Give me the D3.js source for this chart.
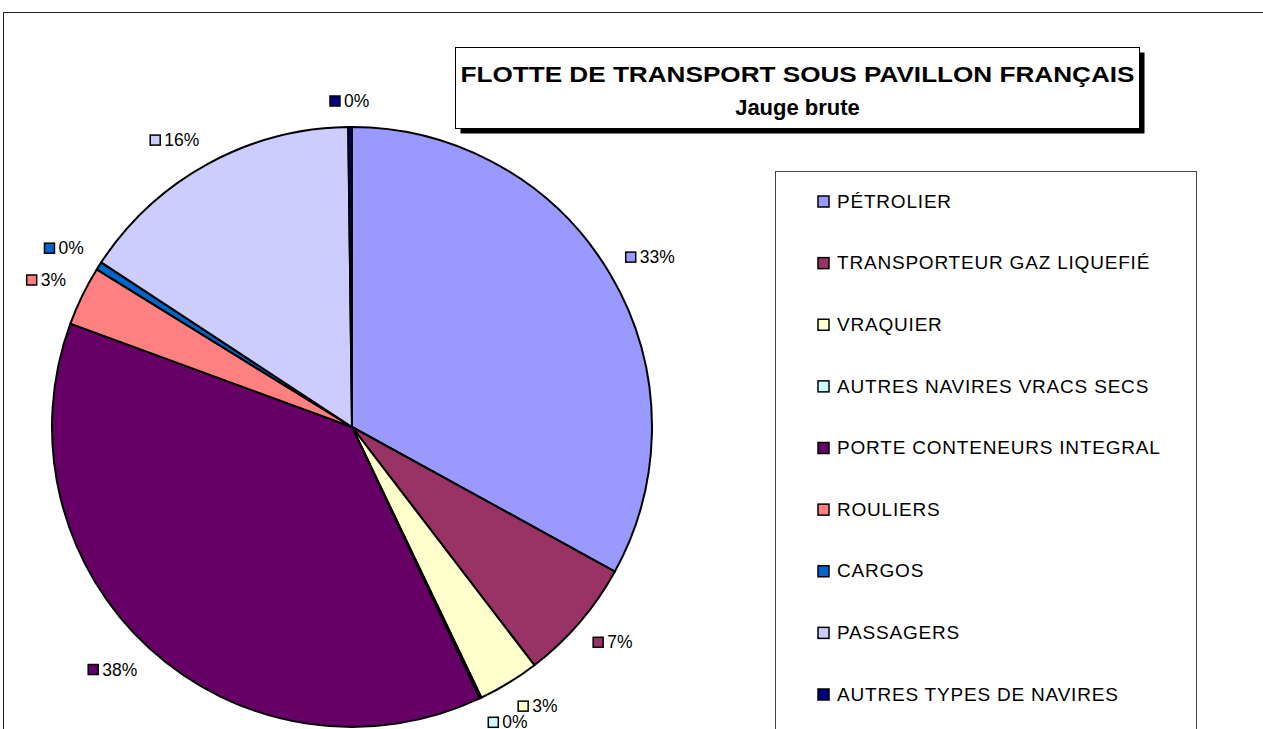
<!DOCTYPE html>
<html>
<head>
<meta charset="utf-8">
<script src="https://cdn.jsdelivr.net/npm/d3@7"></script>
<style>
  body { margin: 0; background: #fff; }
  svg { display: block; font-family: "Liberation Sans", Arial, sans-serif; }
</style>
</head>
<body>
<svg id="chart"></svg>
<script>
// categories, shares (% of gross tonnage) and colours
const categories = [
  "PÉTROLIER",
  "TRANSPORTEUR GAZ LIQUEFIÉ",
  "VRAQUIER",
  "AUTRES NAVIRES VRACS SECS",
  "PORTE CONTENEURS INTEGRAL",
  "ROULIERS",
  "CARGOS",
  "PASSAGERS",
  "AUTRES TYPES DE NAVIRES"
];
const values = [33.0, 6.6, 3.3, 0.1, 37.6, 3.2, 0.45, 15.55, 0.2];
const colors = ["#9999FF", "#993366", "#FFFFCC", "#CCFFFF", "#660066", "#FF8080", "#0066CC", "#CCCCFF", "#000080"];
const titleLines = ["FLOTTE DE TRANSPORT SOUS PAVILLON FRANÇAIS", "Jauge brute"];

const W = 1263, H = 729;
const cx = 352, cy = 427, R = 300;

const svg = d3.select("#chart").attr("width", W).attr("height", H);
svg.append("rect").attr("width", W).attr("height", H).attr("fill", "#fff");

// outer chart frame (runs off the right and bottom edges)
svg.append("rect")
  .attr("x", 3.5).attr("y", 12.5)
  .attr("width", W + 20).attr("height", H + 20)
  .attr("fill", "none").attr("stroke", "#222").attr("stroke-width", 1);

const data = categories.map((c, i) => ({name: c, value: values[i], color: colors[i]}));
const total = d3.sum(values);
const pct = d3.format(".0%");

const pie = d3.pie().value(d => d.value).sort(null);
const arc = d3.arc().innerRadius(0).outerRadius(R);
const arcs = pie(data);

const g = svg.append("g").attr("transform", `translate(${cx},${cy})`);
g.selectAll("path.slice")
  .data(arcs)
  .enter()
  .append("path")
  .attr("class", "slice")
  .attr("d", arc)
  .attr("fill", d => d.data.color)
  .attr("stroke", "#000")
  .attr("stroke-width", 2)
  .attr("stroke-linejoin", "round");

// data labels: marker + percentage placed just outside the arc
const labels = g.selectAll("g.lbl")
  .data(arcs)
  .enter()
  .append("g")
  .attr("class", "lbl");

labels.append("rect")
  .attr("x", 0).attr("y", -5)
  .attr("width", 10).attr("height", 10)
  .attr("fill", d => d.data.color)
  .attr("stroke", "#000").attr("stroke-width", 1.5);

labels.append("text")
  .attr("x", 14)
  .attr("dy", "0.35em")
  .attr("font-size", 17.5)
  .attr("fill", "#000")
  .text(d => pct(d.data.value / total));

const clamp = v => Math.max(-1, Math.min(1, v));
labels.each(function(d) {
  const t = d3.select(this).select("text").node().getComputedTextLength();
  const w = 14 + t, h = 16;
  const mid = (d.startAngle + d.endAngle) / 2;
  const ux = Math.sin(mid), uy = -Math.cos(mid);
  // nearest corner of the label box sits just outside the rim
  const ax = (R + 18) * ux + clamp(ux * 3) * w / 2;
  const ay = (R + 18) * uy + clamp(uy * 3) * h / 2;
  d3.select(this).attr("transform", `translate(${ax - w / 2},${ay})`);
});

// title box with shadow
const tb = {x: 455.5, y: 47.5, w: 684, h: 81};
svg.append("rect")
  .attr("x", tb.x + 5).attr("y", tb.y + 5)
  .attr("width", tb.w).attr("height", tb.h)
  .attr("fill", "#000");
svg.append("rect")
  .attr("x", tb.x).attr("y", tb.y)
  .attr("width", tb.w).attr("height", tb.h)
  .attr("fill", "#fff").attr("stroke", "#000").attr("stroke-width", 1);
svg.append("text")
  .attr("x", tb.x + tb.w / 2).attr("y", 82)
  .attr("text-anchor", "middle")
  .attr("font-weight", "bold").attr("font-size", 22)
  .attr("textLength", 674).attr("lengthAdjust", "spacingAndGlyphs")
  .text(titleLines[0]);
svg.append("text")
  .attr("x", tb.x + tb.w / 2).attr("y", 115)
  .attr("text-anchor", "middle")
  .attr("font-weight", "bold").attr("font-size", 22)
  .text(titleLines[1]);

// legend
const lg = svg.append("g");
lg.append("rect")
  .attr("x", 775.5).attr("y", 171.5)
  .attr("width", 421).attr("height", 600)
  .attr("fill", "#fff").attr("stroke", "#444").attr("stroke-width", 1);

const rowY = d3.scalePoint().domain(categories).range([201, 694]);
const items = lg.selectAll("g.item")
  .data(data)
  .enter()
  .append("g")
  .attr("class", "item")
  .attr("transform", d => `translate(818,${rowY(d.name)})`);

items.append("rect")
  .attr("x", 0).attr("y", -5)
  .attr("width", 11).attr("height", 11)
  .attr("fill", d => d.color)
  .attr("stroke", "#000").attr("stroke-width", 1.5);

items.append("text")
  .attr("x", 19)
  .attr("dy", "0.35em")
  .attr("font-size", 19)
  .attr("letter-spacing", 0.8)
  .attr("fill", "#000")
  .text(d => d.name);
</script>
</body>
</html>
